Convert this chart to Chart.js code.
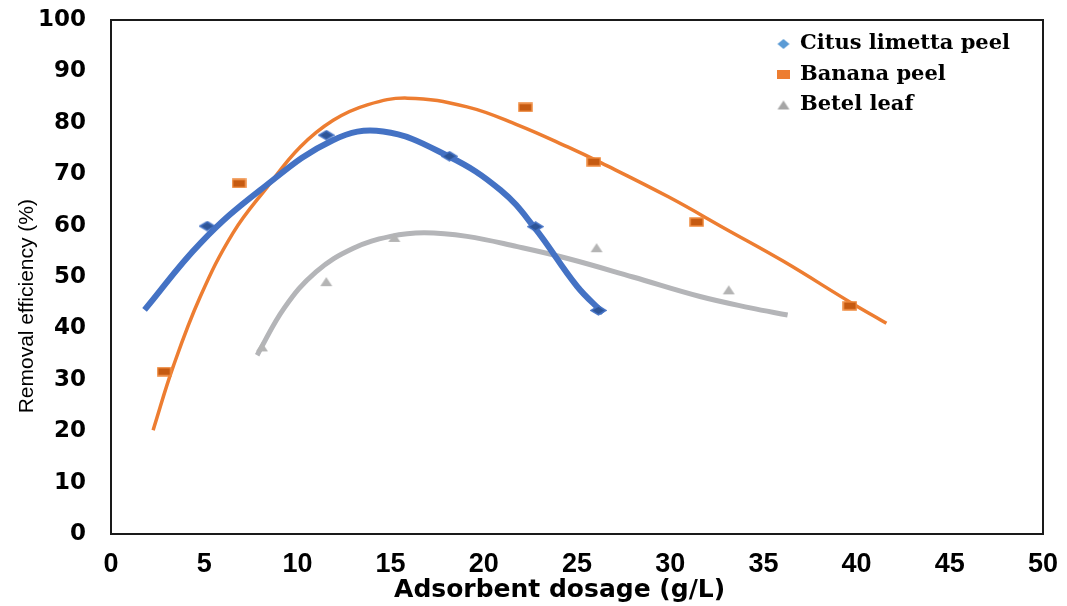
<!DOCTYPE html>
<html><head><meta charset="utf-8">
<script src="https://cdn.jsdelivr.net/npm/chart.js@4.4.1/dist/chart.umd.min.js"></script>
<style>html,body{margin:0;padding:0;background:#fff;} #wrap{width:1067px;height:606px;}</style>
</head><body><div id="wrap"><canvas id="c" width="1067" height="606"></canvas></div>
<script>
// ---- data ----
const seriesNames = ['Citus limetta peel', 'Banana peel', 'Betel leaf'];
const citusX = [5.16, 11.55, 18.15, 22.77, 26.15];
const citusY = [59.9, 77.6, 73.5, 59.8, 43.5];
const bananaX = [2.85, 6.87, 22.23, 25.9, 31.42, 39.64];
const bananaY = [31.6, 68.2, 83.0, 72.4, 60.7, 44.4];
const betelX = [8.1, 11.55, 15.2, 26.05, 33.14];
const betelY = [36.4, 49.1, 57.7, 55.7, 47.5];
// trend curves
const citusTrendX = [1.8, 4.8, 8.0, 11.9, 14.6, 18.1, 20.9, 22.7, 25.0, 26.4];
const citusTrendY = [43.6, 56.6, 66.9, 76.6, 78.3, 73.5, 66.9, 59.7, 48.2, 43.0];
const bananaTrendX = [2.26, 3.33, 4.78, 6.55, 8.38, 10.15, 11.92, 13.75, 15.9, 19.1, 21.8, 24.5, 26.3, 29.9, 33.0, 36.1, 39.7, 41.6];
const bananaTrendY = [20.2, 32.5, 46.1, 58.6, 67.5, 75.3, 80.5, 83.5, 84.8, 83.1, 79.6, 75.3, 72.2, 65.6, 59.3, 53.0, 45.0, 41.0];
const betelTrendX = [7.84, 9.3, 11.0, 13.0, 15.0, 16.8, 19.1, 21.8, 24.5, 28.0, 31.6, 34.3, 36.3];
const betelTrendY = [34.8, 44.0, 51.0, 55.6, 57.9, 58.6, 57.9, 55.9, 53.6, 50.0, 46.2, 44.0, 42.6];
const xTickLabels = ['0','5','10','15','20','25','30','35','40','45','50'];
const yTickLabels = ['0','10','20','30','40','50','60','70','80','90','100'];
const xTitle = 'Adsorbent dosage (g/L)';
const yTitle = 'Removal efficiency (%)';

const pts = (xs, ys) => xs.map((x, i) => ({x: x, y: ys[i]}));

function marker(kind, w, h, fill, stroke) {
  const c = document.createElement('canvas');
  c.width = w + 2; c.height = h + 2;
  const g = c.getContext('2d');
  g.beginPath();
  if (kind === 'diamond') {
    g.moveTo(1 + w / 2, 1); g.lineTo(1 + w, 1 + h / 2); g.lineTo(1 + w / 2, 1 + h); g.lineTo(1, 1 + h / 2);
  } else if (kind === 'rect') {
    g.rect(1, 1, w, h);
  } else {
    g.moveTo(1 + w / 2, 1); g.lineTo(1 + w, 1 + h); g.lineTo(1, 1 + h);
  }
  g.closePath();
  g.fillStyle = fill; g.fill();
  if (stroke) { g.lineWidth = 1.5; g.strokeStyle = stroke; g.stroke(); }
  return c;
}
const mDiamond = marker('diamond', 15, 9, '#2E5597', '#4472C4');
const mRect = marker('rect', 13, 8, '#C55A11', '#F08A3E');
const mTri = marker('tri', 12, 9, '#B4B4B4', null);
const lDiamond = marker('diamond', 12, 10, '#5B9BD5', null);
const lRect = marker('rect', 13, 9, '#ED7D31', null);
const lTri = marker('tri', 12, 9, '#A5A5A5', null);
const legendMarks = [lDiamond, lRect, lTri];

const framePlugin = {
  id: 'frame',
  beforeDatasetsDraw(chart) {
    const a = chart.chartArea, ctx = chart.ctx;
    ctx.save();
    ctx.strokeStyle = '#1a1a1a';
    ctx.lineWidth = 2;
    ctx.strokeRect(a.left, a.top, a.right - a.left, a.bottom - a.top);
    ctx.restore();
  }
};
const legendPlace = {
  id: 'legendPlace',
  afterLayout(chart) {
    const lg = chart.legend;
    if (!lg) return;
    lg.left = 768; lg.top = 24; lg.width = 270; lg.height = 200;
    lg.right = lg.left + lg.width; lg.bottom = lg.top + lg.height;
  }
};
const noPad = s => { s.paddingTop = 0; s.paddingBottom = 0; s.paddingLeft = 0; s.paddingRight = 0; };

new Chart(document.getElementById('c'), {
  type: 'scatter',
  data: {
    datasets: [
      {label: seriesNames[0], data: pts(citusX, citusY), pointStyle: mDiamond, showLine: false},
      {label: seriesNames[1], data: pts(bananaX, bananaY), pointStyle: mRect, showLine: false},
      {label: seriesNames[2], data: pts(betelX, betelY), pointStyle: mTri, showLine: false},
      {label: '', type: 'line', data: pts(citusTrendX, citusTrendY), borderColor: '#4472C4', borderWidth: 6, pointRadius: 0, tension: 0.4, fill: false},
      {label: '', type: 'line', data: pts(bananaTrendX, bananaTrendY), borderColor: '#ED7D31', borderWidth: 3.5, pointRadius: 0, tension: 0.4, fill: false},
      {label: '', type: 'line', data: pts(betelTrendX, betelTrendY), borderColor: '#B4B5B8', borderWidth: 5, pointRadius: 0, tension: 0.4, fill: false}
    ]
  },
  options: {
    responsive: false,
    devicePixelRatio: 1,
    animation: false,
    events: [],
    layout: {padding: {left: 0, right: 24, top: 20, bottom: 0}},
    scales: {
      x: {
        type: 'linear', min: 0, max: 50,
        afterFit: s => { s.height = 72; noPad(s); },
        grid: {display: false}, border: {display: false},
        ticks: {stepSize: 5, color: '#000', padding: 6, maxRotation: 0,
          font: {family: "'Liberation Sans', Arial", weight: 'bold', size: 27},
          callback: (v) => xTickLabels[Math.round(v / 5)]},
        title: {display: true, text: xTitle + '    ', color: '#000',
          font: {family: "'DejaVu Sans'", weight: 'bold', size: 25}, padding: {top: 0, bottom: 1}}
      },
      y: {
        type: 'linear', min: 0, max: 100,
        afterFit: s => { s.width = 111; noPad(s); },
        grid: {display: false}, border: {display: false},
        ticks: {stepSize: 10, color: '#000', padding: 17,
          font: {family: "'DejaVu Sans'", weight: 'bold', size: 23},
          callback: (v) => yTickLabels[Math.round(v / 10)]},
        title: {display: true, text: yTitle + '          ', color: '#000',
          font: {family: "'Liberation Sans', Arial", weight: 'normal', size: 21}, padding: {top: 15, bottom: 0}}
      }
    },
    plugins: {
      tooltip: {enabled: false},
      legend: {
        display: true, position: 'chartArea', align: 'start',
        labels: {
          usePointStyle: true, boxWidth: 12, boxHeight: 12, padding: 9.5, color: '#000',
          font: {family: "'DejaVu Serif'", weight: 'bold', size: 21},
          filter: (item) => item.datasetIndex < 3,
          generateLabels: (chart) => Chart.defaults.plugins.legend.labels.generateLabels(chart)
            .map(it => Object.assign(it, {pointStyle: legendMarks[it.datasetIndex] || it.pointStyle}))
        }
      }
    }
  },
  plugins: [framePlugin, legendPlace]
});
</script>
</body></html>
